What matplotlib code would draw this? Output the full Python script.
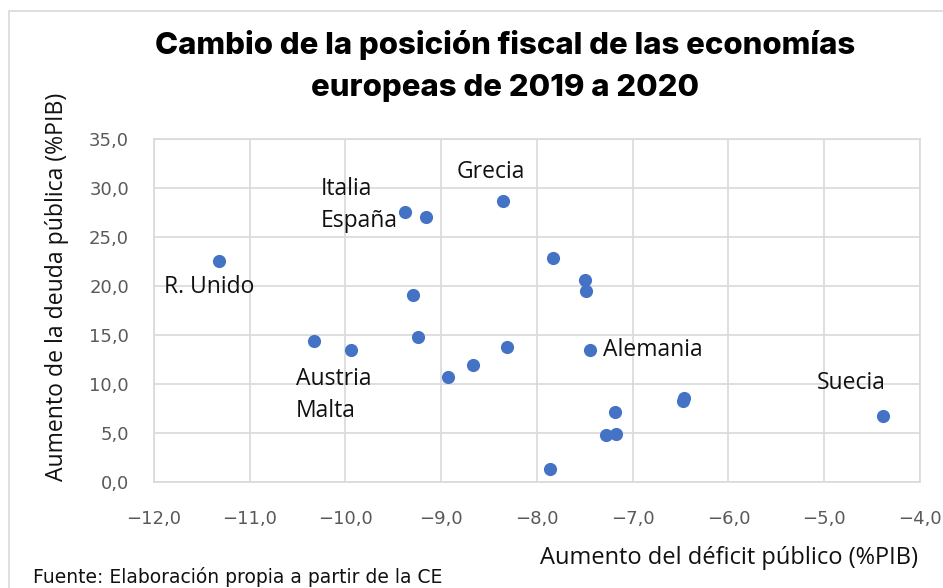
import matplotlib.pyplot as plt
from matplotlib.patches import Rectangle
from matplotlib.ticker import FuncFormatter

# aumento del deficit (x) y de la deuda (y), en % del PIB
deficit = [-11.32, -9.375, -9.16, -8.36, -9.29, -10.33, -9.94, -9.24, -8.93, -8.67, -8.31,
           -7.83, -7.50, -7.49, -7.45, -6.48, -6.46, -7.19, -7.28, -7.18, -7.86, -4.39]
deuda = [22.6, 27.6, 27.0, 28.7, 19.05, 14.4, 13.5, 14.8, 10.7, 11.95, 13.8,
         22.9, 20.65, 19.45, 13.5, 8.3, 8.6, 7.1, 4.8, 4.9, 1.3, 6.7]

etiquetas = ["R. Unido", "Italia", "España", "Grecia", "Austria", "Malta", "Alemania", "Suecia"]
etiq_x = [-11.9, -10.26, -10.26, -8.48, -10.52, -10.52, -7.31, -5.08]
etiq_y = [19.9, 29.85, 26.6, 31.6, 10.5, 7.25, 13.5, 10.1]
etiq_ha = ["left", "left", "left", "center", "left", "left", "left", "left"]

xticks = [-12, -11, -10, -9, -8, -7, -6, -5, -4]
yticks = [0, 5, 10, 15, 20, 25, 30, 35]

fig = plt.figure(figsize=(9.43, 5.88), dpi=100)
ax = fig.add_axes([0.1633, 0.1803, 0.8123, 0.5833])

# marco del grafico
fig.patches.append(Rectangle((9 / 943, -0.01), 1.0, 1 - 11 / 588 + 0.01, transform=fig.transFigure,
                             fill=False, edgecolor="#d9d9d9", linewidth=1.2))

ax.scatter(deficit, deuda, s=90, color="#4472c4", zorder=3, linewidths=0)

for t, x, y, ha in zip(etiquetas, etiq_x, etiq_y, etiq_ha):
    ax.text(x, y, t, ha=ha, va="center", fontsize=16.5, family="Open Sans", color="#111111", zorder=4)

ax.set_xlim(-12, -4)
ax.set_ylim(0, 35)
ax.set_xticks(xticks)
ax.set_yticks(yticks)
fmt = FuncFormatter(lambda v, p: f"{v:.1f}".replace(".", ",").replace("-", "\u2212"))
ax.xaxis.set_major_formatter(fmt)
ax.yaxis.set_major_formatter(fmt)
ax.tick_params(length=0, labelsize=13, labelcolor="#595959")
ax.tick_params(axis="y", pad=18)
ax.tick_params(axis="x", pad=20)

ax.grid(True, color="#d9d9d9", linewidth=1.2)
ax.set_axisbelow(True)
for side in ["top", "right", "left", "bottom"]:
    ax.spines[side].set_color("#d9d9d9")
    ax.spines[side].set_linewidth(1.2)

fig.text(0.536, 1 - 45 / 588, "Cambio de la posición fiscal de las economías", ha="center", va="center",
         fontsize=22.4, fontweight="heavy", family="Inter", color="black")
fig.text(0.536, 1 - 88 / 588, "europeas de 2019 a 2020", ha="center", va="center",
         fontsize=22.4, fontweight="heavy", family="Inter", color="black")

fig.text(57 / 943, 1 - 287 / 588, "Aumento de la deuda pública (%PIB)", rotation=90,
         ha="center", va="center", fontsize=16.6, family="Open Sans", color="#111111")
fig.text(918 / 943, 1 - 558 / 588, "Aumento del déficit público (%PIB)", ha="right", va="center",
         fontsize=17, family="Open Sans", color="#111111")
fig.text(33 / 943, 1 - 577 / 588, "Fuente: Elaboración propia a partir de la CE", ha="left", va="center",
         fontsize=13.5, family="DejaVu Sans", color="#111111")

fig.savefig("out.png", dpi=100)
